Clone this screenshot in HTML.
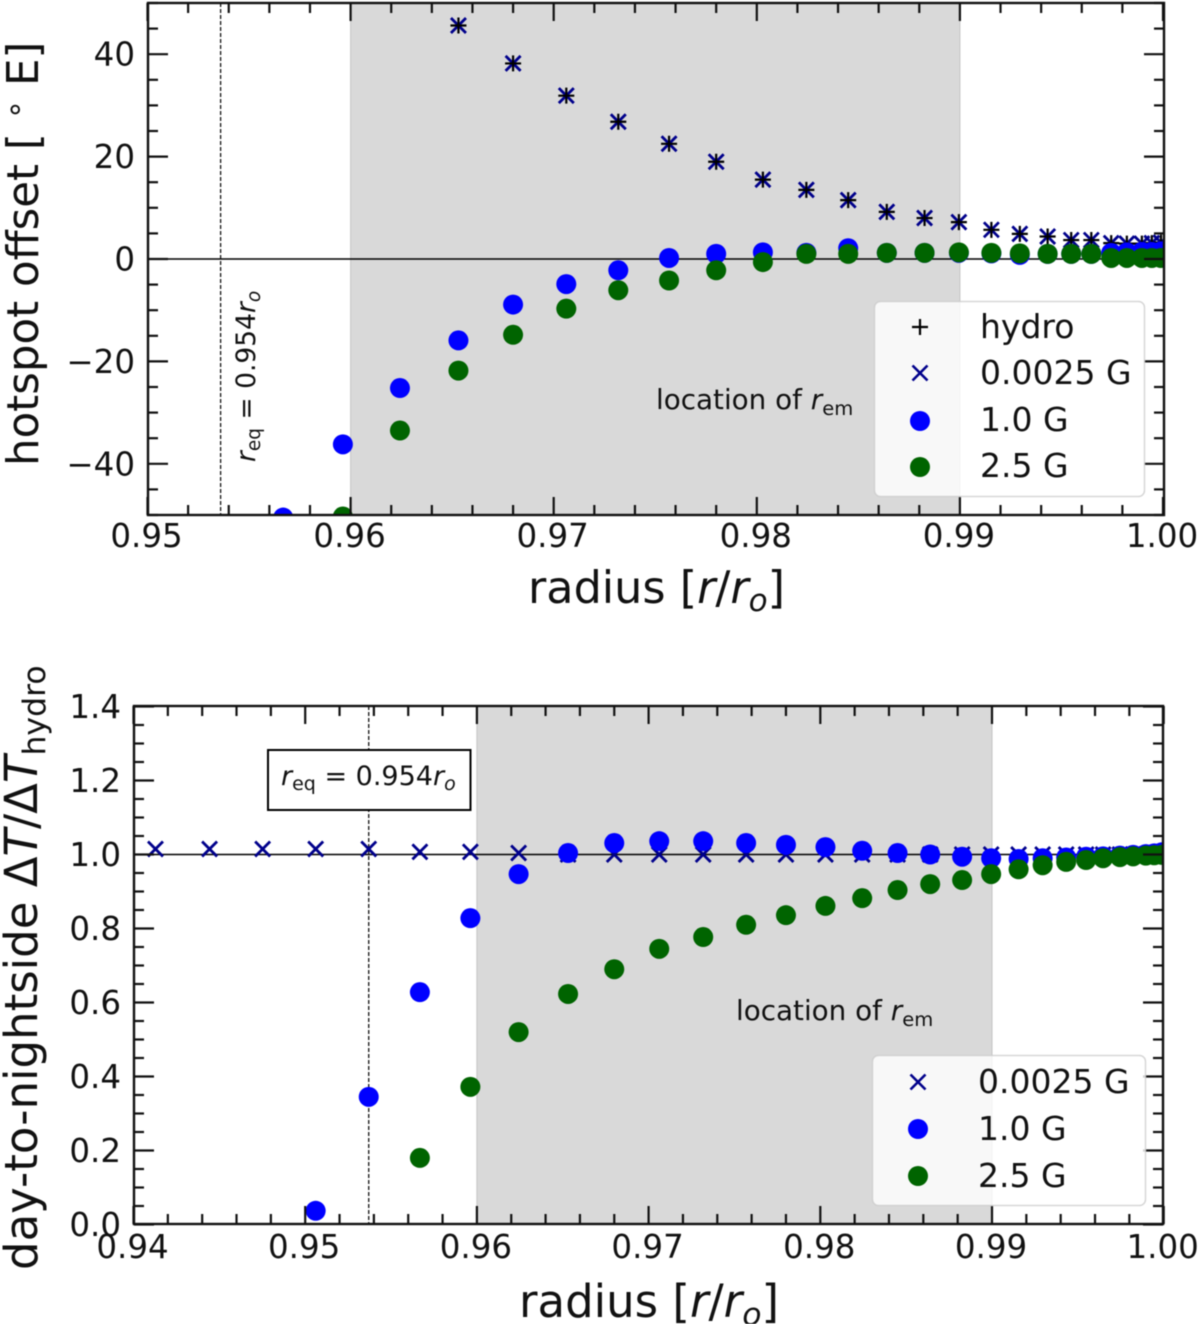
<!DOCTYPE html>
<html lang="en">
<head>
<meta charset="utf-8">
<title>Hotspot offset and day-to-nightside contrast vs radius</title>
<style>
html,body{margin:0;padding:0;background:#fff;width:1200px;height:1324px;overflow:hidden}
svg{display:block;filter:blur(0.55px)}
text{font-family:"DejaVu Sans",sans-serif;fill:#111}
.i{font-style:italic}
</style>
</head>
<body>
<svg id="figure" width="1200" height="1324" viewBox="0 0 1200 1324" xmlns="http://www.w3.org/2000/svg">
  <defs>
    <clipPath id="clip-top"><rect x="148" y="3" width="1016" height="512"/></clipPath>
    <clipPath id="clip-bottom"><rect x="134" y="706" width="1029" height="518"/></clipPath>
  </defs>
  <g id="top-panel">
    <g id="top-under" clip-path="url(#clip-top)"></g>
    <g id="top-marks" clip-path="url(#clip-top)"></g>
    <g id="top-axes"></g>
    <text transform="translate(255,462) rotate(-90)" font-size="26.5"><tspan class="i">r</tspan><tspan font-size="18.5" dy="5">eq</tspan><tspan dy="-5"> = 0.954</tspan><tspan class="i">r</tspan><tspan class="i" font-size="18.5" dy="5">o</tspan></text>
    <text x="656" y="409" font-size="27.8">location of <tspan class="i">r</tspan><tspan font-size="19.5" dy="6">em</tspan></text>
    <g>
      <rect x="874.5" y="301.5" width="270" height="195" rx="6" fill="#fff" fill-opacity="0.8" stroke="#ccc" stroke-opacity="0.8" stroke-width="1.5"/>
      <path d="M912 327h16M920 319v16" stroke="#000" stroke-width="2.2" fill="none"/>
      <text x="980" y="338" font-size="33">hydro</text>
      <path d="M912.500 365.500l15 15M927.500 365.500l-15 15" stroke="#00008b" stroke-width="2.6" fill="none"/>
      <text x="980" y="384" font-size="33">0.0025 G</text>
      <circle cx="920" cy="421" r="10" fill="#0000ff"/>
      <text x="980" y="431" font-size="33">1.0 G</text>
      <circle cx="920" cy="467" r="10" fill="#006400"/>
      <text x="980" y="477" font-size="33">2.5 G</text>
    </g>
    <text transform="translate(38,466) rotate(-90)" font-size="43.5">hotspot offset [ <tspan font-size="31" dy="-13">∘</tspan><tspan dy="13"> E]</tspan></text>
    <text x="528" y="603" font-size="44.5">radius [<tspan class="i">r</tspan>/<tspan class="i">r</tspan><tspan class="i" font-size="31" dy="8">o</tspan><tspan dy="-8">]</tspan></text>
  </g>
  <g id="bottom-panel">
    <g id="bottom-under" clip-path="url(#clip-bottom)"></g>
    <g id="bottom-marks" clip-path="url(#clip-bottom)"></g>
    <g id="bottom-axes"></g>
    <g>
      <rect x="268" y="750" width="202.500" height="60" fill="#fff" stroke="#000" stroke-width="2"/>
      <text x="281" y="785" font-size="27"><tspan class="i">r</tspan><tspan font-size="19" dy="5">eq</tspan><tspan dy="-5"> = 0.954</tspan><tspan class="i">r</tspan><tspan class="i" font-size="19" dy="5">o</tspan></text>
    </g>
    <text x="736" y="1020" font-size="27.8">location of <tspan class="i">r</tspan><tspan font-size="19.5" dy="6">em</tspan></text>
    <g>
      <rect x="872.5" y="1055.500" width="273" height="150" rx="6" fill="#fff" fill-opacity="0.8" stroke="#ccc" stroke-opacity="0.8" stroke-width="1.5"/>
      <path d="M910.500 1074.500l15 15M925.500 1074.500l-15 15" stroke="#00008b" stroke-width="2.6" fill="none"/>
      <text x="978" y="1093" font-size="33">0.0025 G</text>
      <circle cx="918" cy="1129" r="10" fill="#0000ff"/>
      <text x="978" y="1140" font-size="33">1.0 G</text>
      <circle cx="918" cy="1176" r="10" fill="#006400"/>
      <text x="978" y="1187" font-size="33">2.5 G</text>
    </g>
    <text transform="translate(37,1270) rotate(-90)" font-size="45">day-to-nightside Δ<tspan class="i">T</tspan>/Δ<tspan class="i">T</tspan><tspan font-size="31.5" dy="8">hydro</tspan></text>
    <text x="519" y="1317" font-size="45">radius [<tspan class="i">r</tspan>/<tspan class="i">r</tspan><tspan class="i" font-size="31.5" dy="8">o</tspan><tspan dy="-8">]</tspan></text>
  </g>
</svg>
<script>
const radiusValues = [0.94128,0.94443,0.94752,0.95061,0.9537,0.95668,0.95962,0.96243,0.96531,0.968,0.97062,0.97318,0.97568,0.978,0.9803,0.98244,0.9845,0.9864,0.98826,0.98995,0.99155,0.99295,0.99432,0.99548,0.99647,0.99745,0.99822,0.99896,0.99945,0.9999];

const offsetHydro = [null,null,null,null,null,null,null,null,45.6,38.2,31.9,26.8,22.5,19,15.5,13.5,11.5,9.2,8,7.2,5.7,4.9,4.4,3.7,3.7,3.1,3,3,3.1,3.2];
const offsetWeak = [null,null,null,null,null,null,null,null,45.6,38.2,31.9,26.8,22.5,19,15.5,13.5,11.5,9.2,8,7.2,5.7,4.9,4.4,3.7,3.7,3.1,3,3,3.1,3.2];
const offsetMid = [null,null,null,null,null,-50.5,-36.2,-25.2,-15.9,-8.9,-4.9,-2.2,0.2,1,1.3,1.2,2.1,1.2,1.2,1.2,1.1,0.8,1,1,1,1.2,1.3,1.4,1.4,1.5];
const offsetStrong = [null,null,null,null,null,null,-50.3,-33.5,-21.8,-14.8,-9.7,-6.1,-4.2,-2.2,-0.6,1,1,1.2,1.2,1.3,1.2,1.1,1,1,1,0.2,0.2,0.2,0.2,0.2];

const contrastWeak = [1.015,1.015,1.015,1.015,1.015,1.007,1.007,1.004,1,1,1,1,1,1,1,1,1,1,1,1,1,1,1,1,1,1,1,1,1,1];
const contrastMid = [null,null,null,0.037,0.345,0.628,0.828,0.947,1.004,1.031,1.036,1.036,1.031,1.026,1.02,1.01,1.004,1,0.994,0.99,0.988,0.99,0.992,0.994,0.995,0.997,0.999,1.001,1.003,1.006];
const contrastStrong = [null,null,null,null,null,0.18,0.372,0.52,0.623,0.69,0.745,0.777,0.81,0.836,0.861,0.882,0.904,0.92,0.931,0.947,0.96,0.971,0.98,0.985,0.99,0.993,0.995,0.997,0.998,0.999];

const topXTicks = [0.95,0.96,0.97,0.98,0.99,1.00];
const topXTickLabels = ["0.95","0.96","0.97","0.98","0.99","1.00"];
const topYTicks = [-40,-20,0,20,40];
const topYTickLabels = ["−40","−20","0","20","40"];
const bottomXTicks = [0.94,0.95,0.96,0.97,0.98,0.99,1.00];
const bottomXTickLabels = ["0.94","0.95","0.96","0.97","0.98","0.99","1.00"];
const bottomYTicks = [0,0.2,0.4,0.6,0.8,1.0,1.2,1.4];
const bottomYTickLabels = ["0.0","0.2","0.4","0.6","0.8","1.0","1.2","1.4"];

const regionStart = 0.96;
const regionEnd = 0.99;
const equatorRadiusTop = 0.9536;
const equatorRadiusBottom = 0.9537;

const NS = "http://www.w3.org/2000/svg";

const topX = r => 147.5 + (r - 0.95) * 20310;
const topY = v => 259 - v * 5.12;
const bottomX = r => 133.5 + (r - 0.94) * 17170;
const bottomY = v => 1224.5 - v * 370;

function make(parent, tag, props) {
  const el = document.createElementNS(NS, tag);
  for (const k in props) el.setAttribute(k, props[k]);
  parent.appendChild(el);
  return el;
}

function drawBackground(group, xs, ys, x0, x1, y0, y1, hValue, equator) {
  const span = make(group, "rect", {x: xs(regionStart), y: y0, width: xs(regionEnd) - xs(regionStart), height: y1 - y0, fill: "#d9d9d9", stroke: "#c4c4c4", "stroke-width": 1});
  
  
  const hline = make(group, "line", {x1: x0, x2: x1, y1: ys(hValue), y2: ys(hValue), stroke: "#000", "stroke-width": 1.6});
  
  
  const vline = make(group, "line", {x1: xs(equator), x2: xs(equator), y1: y0, y2: y1, stroke: "#111", "stroke-width": 1.3, "stroke-dasharray": "4 2"});
  
  
}

function drawCircles(group, xs, ys, values, color, name) {
  values.forEach((v, i) => {
    if (v === null) return;
    const dot = make(group, "circle", {cx: xs(radiusValues[i]), cy: ys(v), r: 10, fill: color});
    
    
  });
}

function drawCross(group, xs, ys, values, name) {
  values.forEach((v, i) => {
    if (v === null) return;
    const x = xs(radiusValues[i]), y = ys(v), s = 7.5;
    const mark = make(group, "path", {d: `M${x-s} ${y-s}L${x+s} ${y+s}M${x+s} ${y-s}L${x-s} ${y+s}`, stroke: "#00008b", "stroke-width": 2.8, fill: "none"});
    
    
  });
}

function drawPlus(group, xs, ys, values, name) {
  values.forEach((v, i) => {
    if (v === null) return;
    const x = xs(radiusValues[i]), y = ys(v), s = 8;
    const mark = make(group, "path", {d: `M${x-s} ${y}L${x+s} ${y}M${x} ${y-s}L${x} ${y+s}`, stroke: "#000", "stroke-width": 2.2, fill: "none"});
    
    
  });
}

function tick(group, x1, y1, x2, y2, name) {
  const t = make(group, "line", {x1, y1, x2, y2, stroke: "#111", "stroke-width": 2.2});
  
  
}

function drawAxes(group, xs, ys, box, xStart, xEnd, xMinor, yStart, yEnd, yMinor, xTicks, xLabels, yTicks, yLabels, xBase, yEndX) {
  const frame = make(group, "rect", {x: box.l, y: box.t, width: box.r - box.l, height: box.b - box.t, fill: "none", stroke: "#111", "stroke-width": 2.4});
  
  
  const nx = Math.round((xEnd - xStart) / xMinor);
  for (let i = 0; i <= nx; i++) {
    const x = xs(xStart + i * xMinor);
    const major = i % 5 === 0;
    const len = major ? 18 : 10;
    tick(group, x, box.b, x, box.b - len, major ? 'x-major-tick' : 'x-minor-tick');
    tick(group, x, box.t, x, box.t + len, major ? 'x-major-tick' : 'x-minor-tick');
  }
  const ny = Math.round((yEnd - yStart) / yMinor);
  for (let i = 0; i <= ny; i++) {
    const y = ys(yStart + i * yMinor);
    const major = i % 4 === ((Math.round((yTicks[0] - yStart) / yMinor)) % 4);
    const len = major ? 20 : 10;
    tick(group, box.l, y, box.l + len, y, major ? 'y-major-tick' : 'y-minor-tick');
    tick(group, box.r, y, box.r - len, y, major ? 'y-major-tick' : 'y-minor-tick');
  }
  xTicks.forEach((v, i) => {
    const label = make(group, "text", {x: xs(v) - 1, y: xBase, "text-anchor": "middle", "font-size": 32.5});
    
    
    label.textContent = xLabels[i];
  });
  yTicks.forEach((v, i) => {
    const label = make(group, "text", {x: yEndX, y: ys(v) + 11.5, "text-anchor": "end", "font-size": 32.5});
    
    
    label.textContent = yLabels[i];
  });
}

const topUnder = document.getElementById("top-under");
const topMarks = document.getElementById("top-marks");
const topAxes = document.getElementById("top-axes");
const bottomUnder = document.getElementById("bottom-under");
const bottomMarks = document.getElementById("bottom-marks");
const bottomAxes = document.getElementById("bottom-axes");

drawBackground(topUnder, topX, topY, 148, 1164, 3, 515, 0, equatorRadiusTop);
drawCross(topMarks, topX, topY, offsetWeak, 'offset-point-0.0025g');
drawPlus(topMarks, topX, topY, offsetHydro, 'offset-point-hydro');
drawCircles(topMarks, topX, topY, offsetMid, "#0000ff", 'offset-point-1.0g');
drawCircles(topMarks, topX, topY, offsetStrong, "#006400", 'offset-point-2.5g');
drawAxes(topAxes, topX, topY, {l: 148, r: 1164, t: 3, b: 515}, 0.95, 1.0, 0.002, -50, 50, 5, topXTicks, topXTickLabels, topYTicks, topYTickLabels, 547, 135);

drawBackground(bottomUnder, bottomX, bottomY, 134, 1163, 706, 1224, 1, equatorRadiusBottom);
drawCross(bottomMarks, bottomX, bottomY, contrastWeak, 'contrast-point-0.0025g');
drawCircles(bottomMarks, bottomX, bottomY, contrastMid, "#0000ff", 'contrast-point-1.0g');
drawCircles(bottomMarks, bottomX, bottomY, contrastStrong, "#006400", 'contrast-point-2.5g');
drawAxes(bottomAxes, bottomX, bottomY, {l: 134, r: 1163, t: 706, b: 1224}, 0.94, 1.0, 0.002, 0, 1.4, 0.05, bottomXTicks, bottomXTickLabels, bottomYTicks, bottomYTickLabels, 1258, 121);
</script>
</body>
</html>
